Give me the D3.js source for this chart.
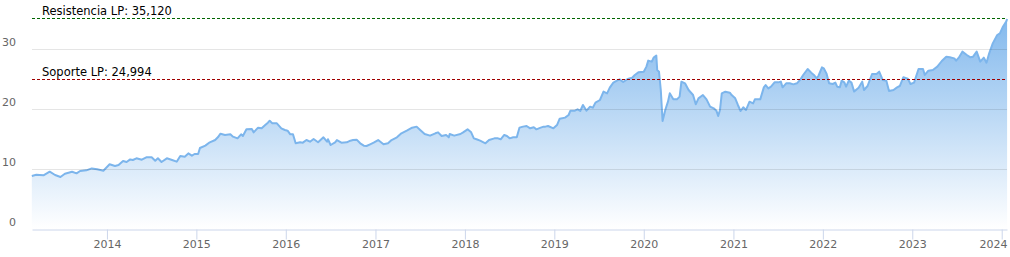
<!DOCTYPE html>
<html>
<head>
<meta charset="utf-8">
<script src="https://cdn.jsdelivr.net/npm/d3@7"></script>
<style>
  body { margin: 0; background: #fff; }
  svg { display: block; font-family: "DejaVu Sans", Verdana, sans-serif; }
</style>
</head>
<body>
<svg id="chart"></svg>
<script>
//data: dates as decimal years, prices
var dates = [
  2013.16,2013.21,2013.29,2013.36,2013.42,2013.48,2013.53,2013.61,2013.66,2013.70,
  2013.77,2013.83,2013.89,2013.96,2014.03,2014.09,2014.13,2014.18,2014.22,2014.26,
  2014.29,2014.33,2014.39,2014.44,2014.50,2014.54,2014.57,2014.61,2014.67,2014.72,
  2014.78,2014.82,2014.87,2014.91,2014.95,2014.98,2015.02,2015.04,2015.10,2015.15,
  2015.21,2015.24,2015.27,2015.32,2015.38,2015.41,2015.46,2015.50,2015.52,2015.56,
  2015.62,2015.64,2015.69,2015.73,2015.77,2015.80,2015.82,2015.85,2015.90,2015.95,
  2015.99,2016.02,2016.05,2016.08,2016.11,2016.16,2016.19,2016.23,2016.27,2016.31,
  2016.36,2016.42,2016.46,2016.47,2016.50,2016.55,2016.57,2016.62,2016.68,2016.72,
  2016.75,2016.79,2016.83,2016.87,2016.90,2016.94,2016.98,2017.03,2017.09,2017.14,
  2017.18,2017.24,2017.29,2017.35,2017.41,2017.46,2017.50,2017.55,2017.61,2017.67,
  2017.70,2017.74,2017.79,2017.82,2017.83,2017.88,2017.95,2017.98,2018.03,2018.07,
  2018.10,2018.13,2018.17,2018.23,2018.27,2018.33,2018.37,2018.40,2018.44,2018.47,
  2018.50,2018.54,2018.58,2018.61,2018.65,2018.69,2018.73,2018.77,2018.80,2018.84,
  2018.88,2018.90,2018.93,2018.99,2019.03,2019.06,2019.12,2019.16,2019.18,2019.23,
  2019.26,2019.29,2019.32,2019.36,2019.40,2019.43,2019.46,2019.51,2019.55,2019.59,
  2019.62,2019.66,2019.70,2019.73,2019.77,2019.82,2019.87,2019.90,2019.94,2020.00,
  2020.03,2020.05,2020.09,2020.11,2020.14,2020.15,2020.17,2020.19,2020.21,2020.24,
  2020.27,2020.29,2020.33,2020.37,2020.40,2020.42,2020.46,2020.50,2020.55,2020.58,
  2020.61,2020.66,2020.70,2020.74,2020.78,2020.81,2020.83,2020.85,2020.87,2020.91,
  2020.96,2020.98,2021.02,2021.05,2021.08,2021.11,2021.14,2021.18,2021.22,2021.24,
  2021.30,2021.34,2021.36,2021.39,2021.42,2021.46,2021.50,2021.53,2021.55,2021.59,
  2021.63,2021.67,2021.71,2021.75,2021.78,2021.83,2021.87,2021.90,2021.93,2021.95,
  2021.99,2022.01,2022.04,2022.07,2022.11,2022.14,2022.16,2022.19,2022.21,2022.24,
  2022.26,2022.29,2022.32,2022.35,2022.40,2022.44,2022.46,2022.50,2022.55,2022.60,
  2022.63,2022.67,2022.71,2022.74,2022.79,2022.83,2022.86,2022.90,2022.95,2022.98,
  2023.02,2023.07,2023.12,2023.14,2023.18,2023.23,2023.28,2023.33,2023.38,2023.42,
  2023.47,2023.49,2023.52,2023.56,2023.61,2023.65,2023.68,2023.72,2023.76,2023.80,
  2023.83,2023.86,2023.90,2023.95,2023.98,2024.01,2024.05,2024.06
]
var values = [
  8.83,9.05,8.95,9.55,9.00,8.67,9.20,9.55,9.28,9.67,
  9.78,10.10,9.95,9.72,10.78,10.50,10.67,11.33,11.17,11.60,
  11.50,11.78,11.55,11.95,11.95,11.38,11.78,11.17,11.78,11.55,
  11.22,12.17,12.05,12.60,12.22,12.50,12.50,13.50,13.90,14.45,
  14.83,15.28,15.88,15.67,15.78,15.39,15.11,15.78,15.50,16.61,
  16.67,16.11,16.89,16.78,17.33,17.72,18.05,17.61,17.61,16.78,
  16.50,16.39,15.78,15.78,14.28,14.45,14.39,14.83,14.55,15.00,
  14.45,15.28,14.55,14.95,14.00,14.45,14.83,14.39,14.45,14.72,
  14.83,14.89,14.28,13.89,13.83,14.11,14.39,14.83,14.11,14.28,
  14.83,15.28,15.95,16.39,16.89,17.06,16.50,15.83,15.56,15.95,
  16.11,15.50,15.67,15.28,15.83,15.56,15.83,16.11,16.61,16.11,
  15.11,14.95,14.72,14.28,14.83,15.11,15.11,14.95,15.67,15.50,
  15.11,15.28,15.28,16.89,17.06,17.17,16.78,16.95,16.61,16.85,
  17.06,17.06,17.17,16.78,17.33,18.39,18.56,19.00,19.72,19.72,
  19.94,19.67,20.67,19.72,20.39,20.22,21.06,21.50,22.89,22.61,
  23.56,24.39,24.72,24.94,24.50,25.00,25.22,25.67,26.11,26.22,
  27.06,28.06,27.89,28.56,28.89,26.50,26.22,23.17,18.00,19.83,
  21.22,22.61,21.61,21.61,22.06,24.56,24.28,23.17,22.33,20.78,
  21.78,22.33,21.61,20.39,20.11,19.72,18.83,19.83,22.61,22.89,
  22.72,22.33,21.78,20.67,19.67,20.28,19.83,21.22,20.94,21.61,
  21.61,23.61,24.00,23.44,23.72,24.44,24.44,24.56,23.61,24.28,
  24.28,24.11,24.28,24.94,25.67,26.67,26.06,25.67,25.11,25.50,
  26.94,26.78,25.94,24.28,24.17,24.39,23.72,23.61,24.72,24.44,
  23.72,24.72,24.40,22.90,23.56,24.56,23.17,23.83,25.83,25.83,
  26.22,24.83,24.72,23.00,23.17,23.61,23.83,25.28,25.06,24.17,
  24.39,26.67,26.67,25.67,26.39,26.50,27.06,28.00,28.72,28.61,
  28.44,28.06,28.56,29.56,29.00,28.61,28.72,29.56,27.89,28.56,
  27.72,29.28,30.94,32.33,32.61,33.61,34.56,35.00
]

//support / resistance levels
var levelNames = ['Resistencia LP', 'Soporte LP']
var levelValues = [35.120, 24.994]

//tick labels
var xTickYears = [2014, 2015, 2016, 2017, 2018, 2019, 2020, 2021, 2022, 2023, 2024]
var yTicks = [0, 10, 20, 30]

var levelColors = ['#006400', '#a00000']

//svg size
var svg = d3.select('#chart')
  .attr('width', 1010)
  .attr('height', 257)

var margin = { top: 10, right: 3, bottom: 28, left: 32 }
var width = 1010 - margin.left - margin.right
var height = 257 - margin.top - margin.bottom

//decimal year -> Date
function toDate(yr) {
  var y = Math.floor(yr)
  var start = new Date(y, 0, 1)
  var end = new Date(y + 1, 0, 1)
  return new Date(start.getTime() + (yr - y) * (end - start))
}

var data = dates.map(function(d, i) {
  return { date: toDate(d), value: values[i] }
})

//scales
var x = d3.scaleTime()
  .domain([toDate(2013.162), toDate(2024.059)])
  .range([margin.left, margin.left + width])
var y = d3.scaleLinear()
  .domain([0, 36.5])
  .range([margin.top + height, margin.top])

//gradient for the area
var defs = svg.append('defs')
var grad = defs.append('linearGradient')
  .attr('id', 'fillGrad')
  .attr('x1', 0).attr('y1', 0).attr('x2', 0).attr('y2', 1)
grad.append('stop').attr('offset', '0%').attr('stop-color', '#7cb5ec').attr('stop-opacity', 0.95)
grad.append('stop').attr('offset', '100%').attr('stop-color', '#7cb5ec').attr('stop-opacity', 0)

//area + line
var area = d3.area()
  .x(function(d) { return x(d.date) })
  .y0(y(0))
  .y1(function(d) { return y(d.value) })

var line = d3.line()
  .x(function(d) { return x(d.date) })
  .y(function(d) { return y(d.value) })

svg.append('path')
  .datum(data)
  .attr('d', area)
  .attr('fill', 'url(#fillGrad)')

svg.append('path')
  .datum(data)
  .attr('d', line)
  .attr('fill', 'none')
  .attr('stroke', '#7cb5ec')
  .attr('stroke-width', 2)
  .attr('stroke-linejoin', 'round')

//grid lines (drawn on top, translucent)
svg.append('g')
  .selectAll('line')
  .data(yTicks.filter(function(d) { return d > 0 }))
  .enter()
  .append('line')
  .attr('x1', margin.left)
  .attr('x2', margin.left + width)
  .attr('y1', function(d) { return Math.round(y(d)) + 0.5 })
  .attr('y2', function(d) { return Math.round(y(d)) + 0.5 })
  .attr('stroke', '#000')
  .attr('stroke-opacity', 0.1)

//y labels
svg.append('g')
  .selectAll('text')
  .data(yTicks)
  .enter()
  .append('text')
  .attr('x', 16)
  .attr('y', function(d) { return y(d) - 3 })
  .attr('text-anchor', 'end')
  .attr('font-size', 11)
  .attr('fill', '#666')
  .text(function(d) { return d })

//x axis (tickSize first, then drop the outer ticks)
var xaxis = svg.append('g')
  .attr('class', 'axis axis-x')
  .attr('transform', 'translate(0,' + (Math.round(y(0)) + 0.5) + ')')
  .call(d3.axisBottom(x)
    .tickValues(xTickYears.map(function(d) { return new Date(d, 0, 1) }))
    .tickFormat(d3.timeFormat('%Y'))
    .tickSize(10)
    .tickSizeOuter(0)
    .tickPadding(1))

xaxis.select('.domain').attr('stroke', '#ccd6eb')
xaxis.selectAll('.tick line').attr('stroke', '#ccd6eb')
xaxis.selectAll('.tick text')
  .attr('fill', '#666')
  .attr('font-size', 11)
  .attr('font-family', '"DejaVu Sans", Verdana, sans-serif')

//keep the last label inside the chart
xaxis.selectAll('.tick text')
  .filter(function(d, i, n) { return i === n.length - 1 })
  .attr('text-anchor', 'end')
  .attr('x', function(d) { return margin.left + width - x(d) })

//support / resistance lines
var levels = svg.append('g')
levelValues.forEach(function(v, i) {
  var yy = Math.round(y(v)) + 0.5
  levels.append('line')
    .attr('x1', margin.left)
    .attr('x2', margin.left + width)
    .attr('y1', yy)
    .attr('y2', yy)
    .attr('stroke', levelColors[i])
    .attr('stroke-width', 1)
    .attr('stroke-dasharray', '3,2')
  levels.append('text')
    .attr('x', margin.left + 10)
    .attr('y', yy - 4)
    .attr('font-size', 11.5)
    .attr('fill', '#000')
    .text(levelNames[i] + ': ' + v.toFixed(3).replace('.', ','))
})
</script>
</body>
</html>
